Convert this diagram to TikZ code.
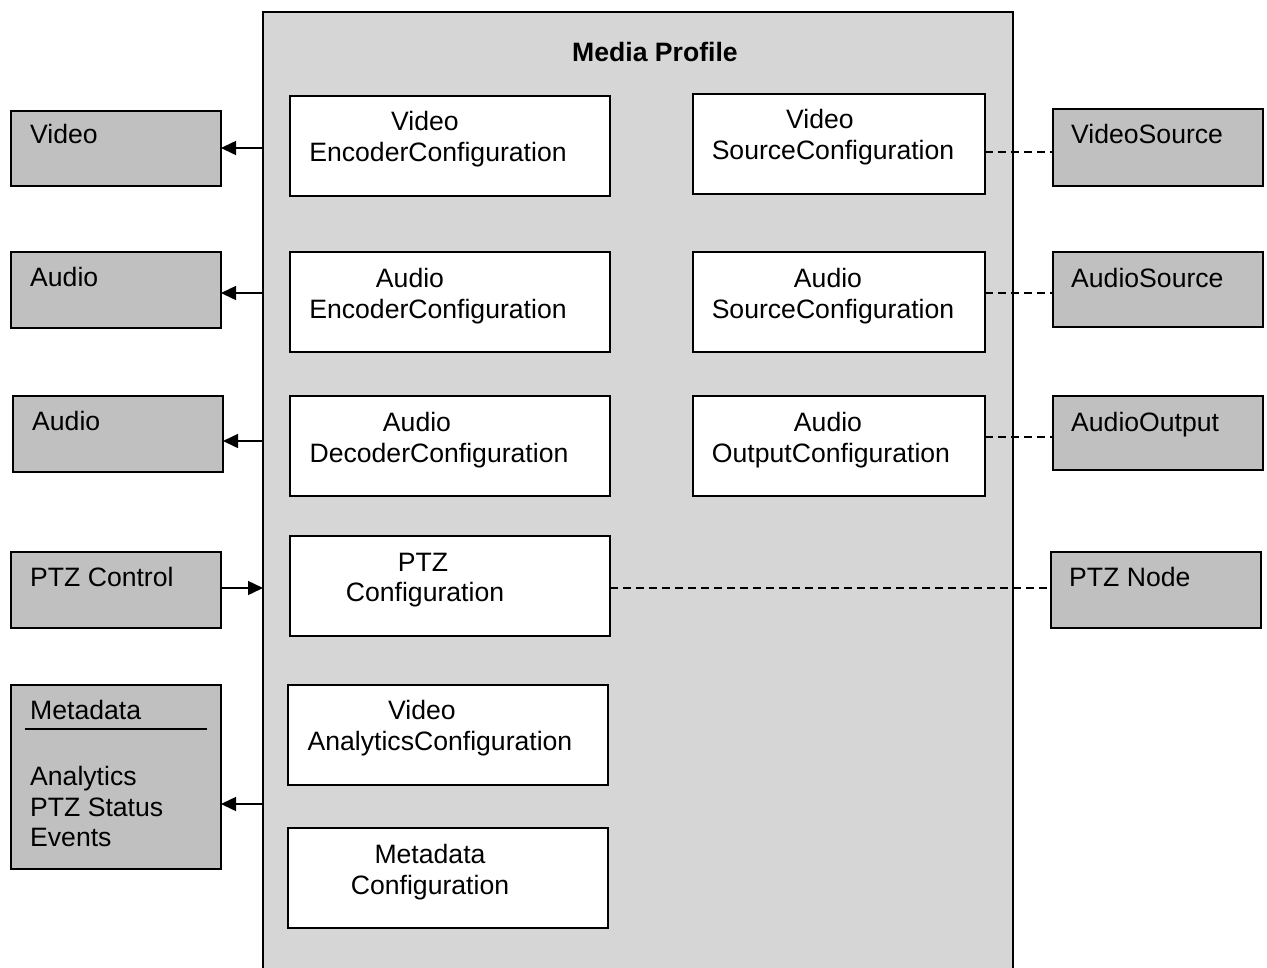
\documentclass[tikz,border=0pt]{standalone}
\usepackage{fontspec}
\setmainfont{Liberation Sans}
\usetikzlibrary{arrows.meta}
\definecolor{profilefill}{HTML}{D6D6D6}
\definecolor{outerfill}{HTML}{C0C0C0}
\begin{document}
\begin{tikzpicture}[x=1pt,y=-1pt,
  box/.style={draw=black,line width=2pt,fill=white,inner sep=0pt,outer sep=0pt},
  gbox/.style={draw=black,line width=2pt,fill=outerfill,inner sep=0pt,outer sep=0pt},
  txt/.style={inner sep=0pt,font=\fontsize{26.6}{31}\selectfont,anchor=base},
  ltxt/.style={inner sep=0pt,font=\fontsize{26.6}{31}\selectfont,anchor=base west},
  dashline/.style={line width=1.5pt,dash pattern=on 8pt off 5pt},
  arr/.style={line width=1.5pt,-{Triangle[length=15pt,width=14pt]}}]
\useasboundingbox (0,0) rectangle (1267,967);
\begin{scope}
\clip (0,0) rectangle (1267,967);
\draw[line width=2pt,fill=profilefill] (263,12) rectangle (1013,990);
\end{scope}
\node[txt,font=\fontsize{26.6}{31}\selectfont\bfseries] (title) at (655,61) {Media Profile};
% left column
\node[box,minimum width=320pt,minimum height=100pt] (vec) at (450,146) {};
\node[txt] (vec1) at (425,130) {Video};
\node[txt] (vec2) at (438,161) {EncoderConfiguration};
\node[box,minimum width=320pt,minimum height=100pt] (aec) at (450,302) {};
\node[txt] (aec1) at (410,287) {Audio};
\node[txt] (aec2) at (438,318) {EncoderConfiguration};
\node[box,minimum width=320pt,minimum height=100pt] (adc) at (450,446) {};
\node[txt] (adc1) at (417,431) {Audio};
\node[txt] (adc2) at (439,462) {DecoderConfiguration};
\node[box,minimum width=320pt,minimum height=100pt] (ptzcfg) at (450,586) {};
\node[txt] (ptz1) at (423,571) {PTZ};
\node[txt] (ptz2) at (425,601) {Configuration};
\node[box,minimum width=320pt,minimum height=100pt] (vac) at (448,735) {};
\node[txt] (vac1) at (422,719) {Video};
\node[txt] (vac2) at (440,750) {AnalyticsConfiguration};
\node[box,minimum width=320pt,minimum height=100pt] (mdc) at (448,878) {};
\node[txt] (mdc1) at (430,863) {Metadata};
\node[txt] (mdc2) at (430,894) {Configuration};
% right column
\node[box,minimum width=292pt,minimum height=100pt] (vsc) at (839,144) {};
\node[txt] (vsc1) at (820,128) {Video};
\node[txt] (vsc2) at (833,159) {SourceConfiguration};
\node[box,minimum width=292pt,minimum height=100pt] (asc) at (839,302) {};
\node[txt] (asc1) at (828,287) {Audio};
\node[txt] (asc2) at (833,318) {SourceConfiguration};
\node[box,minimum width=292pt,minimum height=100pt] (aoc) at (839,446) {};
\node[txt] (aoc1) at (828,431) {Audio};
\node[txt] (aoc2) at (831,462) {OutputConfiguration};
% outer left
\node[gbox,minimum width=210pt,minimum height=75pt] (video) at (116,148) {};
\node[ltxt] (videot) at (30,143) {Video};
\node[gbox,minimum width=210pt,minimum height=76pt] (audio1) at (116,290) {};
\node[ltxt] (audio1t) at (30,286) {Audio};
\node[gbox,minimum width=210pt,minimum height=76pt] (audio2) at (118,434) {};
\node[ltxt] (audio2t) at (32,430) {Audio};
\node[gbox,minimum width=210pt,minimum height=76pt] (ptzc) at (116,590) {};
\node[ltxt] (ptzct) at (30,586) {PTZ Control};
\node[gbox,minimum width=210pt,minimum height=184pt] (meta) at (116,777) {};
\node[ltxt] (metat) at (30,719) {Metadata};
\coordinate (ml1) at (25,729);
\coordinate (ml2) at (207,729);
\draw[line width=1.5pt] (ml1) -- (ml2);
\node[ltxt] (an) at (30,785) {Analytics};
\node[ltxt] (ps) at (30,816) {PTZ Status};
\node[ltxt] (ev) at (30,846) {Events};
% outer right
\node[gbox,minimum width=210pt,minimum height=77pt] (vs) at (1158,147.5) {};
\node[ltxt] (vst) at (1071,143) {VideoSource};
\node[gbox,minimum width=210pt,minimum height=75pt] (as) at (1158,289.5) {};
\node[ltxt] (ast) at (1071,287) {AudioSource};
\node[gbox,minimum width=210pt,minimum height=74pt] (ao) at (1158,433) {};
\node[ltxt] (aot) at (1071,431) {AudioOutput};
\node[gbox,minimum width=210pt,minimum height=76pt] (ptzn) at (1156,590) {};
\node[ltxt] (ptznt) at (1069,586) {PTZ Node};
% dashed links
\draw[dashline] (vsc.east |- 0,152) -- (vs.west |- 0,152);
\draw[dashline] (asc.east |- 0,293) -- (as.west |- 0,293);
\draw[dashline] (aoc.east |- 0,437) -- (ao.west |- 0,437);
\draw[dashline] (ptzcfg.east |- 0,588) -- (ptzn.west |- 0,588);
% arrows from/to the profile border
\coordinate (pv) at (263,148);
\coordinate (pa1) at (263,293);
\coordinate (pa2) at (263,441);
\coordinate (pp) at (263,588);
\coordinate (pm) at (263,804);
\draw[arr] (pv) -- (video.east |- pv);
\draw[arr] (pa1) -- (audio1.east |- pa1);
\draw[arr] (pa2) -- (audio2.east |- pa2);
\draw[arr] (ptzc.east |- pp) -- (pp);
\draw[arr] (pm) -- (meta.east |- pm);
\end{tikzpicture}
\end{document}
